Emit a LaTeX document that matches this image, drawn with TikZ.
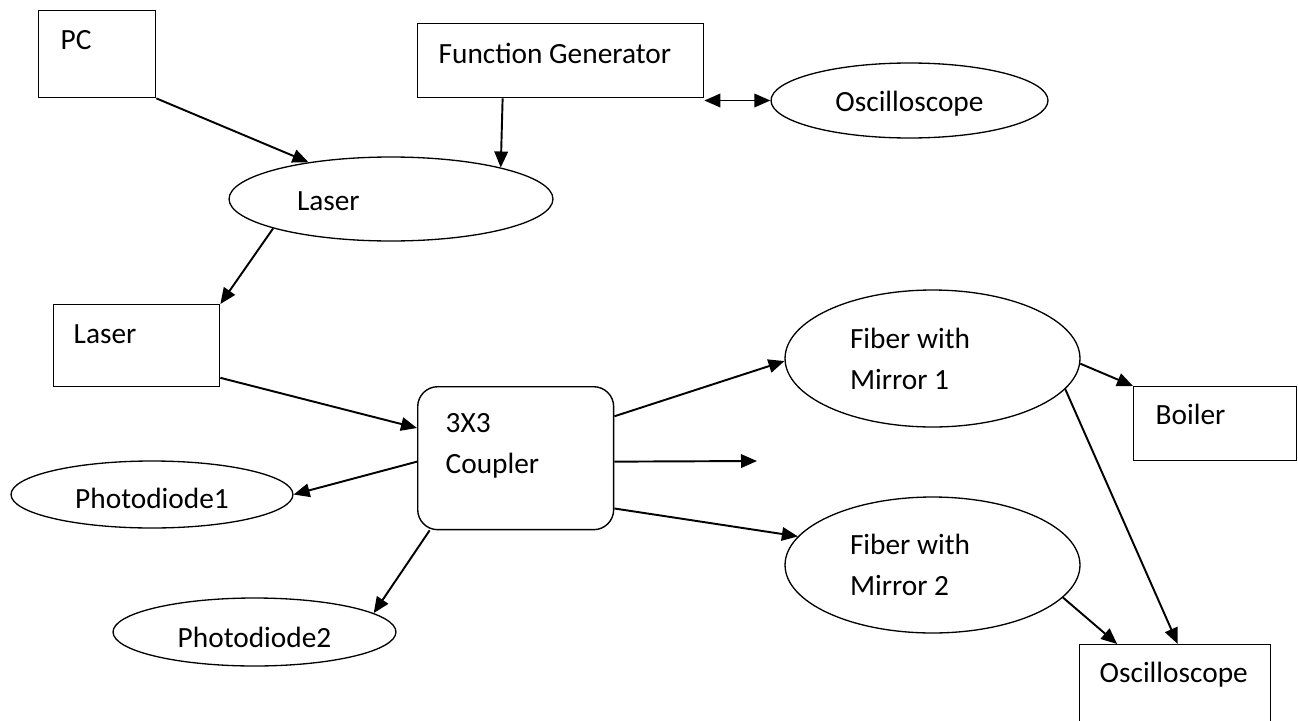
\documentclass[tikz,border=0pt]{standalone}
\usepackage{fontspec}
\setmainfont{Carlito}
\usetikzlibrary{shapes.geometric,arrows.meta}

\begin{document}
\begin{tikzpicture}[
  x=0.02cm, y=-0.02cm,
  font=\fontsize{16.7pt}{0.82cm}\selectfont,
  execute at begin node={\spaceskip=0pt\xspaceskip=0pt\hyphenpenalty=10000},
  >={Triangle[length=0.32cm, width=0.27cm]},
  box/.style={draw, rectangle, line width=0.8pt, anchor=north west,
    align=left, inner ysep=0pt},
  ell/.style={draw, ellipse, line width=0.75pt, inner sep=0pt},
  arr/.style={->, line width=1.1pt}
]
  \clip (0,0) rectangle (1298,720);

  % boxes, placed by their top left corner
  \node[box, inner xsep=0.44cm, text width=1.46cm, text height=0.78cm, text depth=0.96cm] (pc) at (38,10) {PC};
  \node[box, inner xsep=0.42cm, text width=4.88cm, text height=0.8cm, text depth=0.68cm] (fg) at (417,23) {Function Generator};
  \node[box, inner xsep=0.4cm, text width=2.52cm, text height=0.78cm, text depth=0.86cm] (lbox) at (53,304) {Laser};
  \node[box, rounded corners=0.4cm, inner xsep=0.56cm, text width=2.8cm, text height=0.92cm, text depth=1.94cm] (coupler) at (417,386) {3X3\\Coupler};
  \node[box, inner xsep=0.44cm, text width=2.38cm, text height=0.76cm, text depth=0.72cm] (boiler) at (1133,386) {Boiler};
  \node[box, inner xsep=0.4cm, text width=3.02cm, text height=0.76cm, text depth=1.16cm] (scope) at (1079,644) {Oscilloscope};

  % ellipses
  \node[ell, minimum width=6.48cm, minimum height=1.68cm, text width=3.76cm, align=left, text height=0.44cm, text depth=0pt] (laser) at (391,199) {Laser};
  \node[ell, minimum width=5.54cm, minimum height=1.5cm, text height=0.46cm, text depth=0pt] (osc) at (909.5,100.5) {Oscilloscope};
  \node[ell, minimum width=5.64cm, minimum height=1.34cm, text height=0.54cm, text depth=0pt] (pd1) at (152,494.5) {Photodiode1};
  \node[ell, minimum width=5.66cm, minimum height=1.36cm, text height=0.6cm, text depth=0pt] (pd2) at (254.5,632) {Photodiode2};
  \node[ell, minimum width=5.9cm, minimum height=2.74cm, text width=3.3cm, align=left] (fib1) at (932.5,358.5) {Fiber with\\Mirror 1};
  \node[ell, minimum width=5.9cm, minimum height=2.72cm, text width=3.3cm, align=left] (fib2) at (932.5,565) {Fiber with\\Mirror 2};

  \coordinate (open) at (757,461);

  \draw[arr] (pc.south east) -- (laser.156);
  \draw[arr] (fg.213) -- (laser.16);
  \draw[arr, <->] (fg.south east |- osc.west) -- (osc.west);
  \draw[arr] (laser.194) -- (lbox.north east);
  \draw[arr] (lbox.339) -- (coupler.163);
  \draw[arr] (coupler.182) -- (pd1.east);
  \draw[arr] (coupler.220) -- (pd2.9);
  \draw[arr] (coupler.23) -- (fib1.181);
  \draw[arr] (coupler.358) -- (open);
  \draw[arr] (coupler.333) -- (fib2.168);
  \draw[arr] (fib1.358) -- (boiler.north west);
  \draw[arr] (fib1.347) -- (scope.87);
  \draw[arr] (fib2.346) -- (scope.140);
\end{tikzpicture}
\end{document}
